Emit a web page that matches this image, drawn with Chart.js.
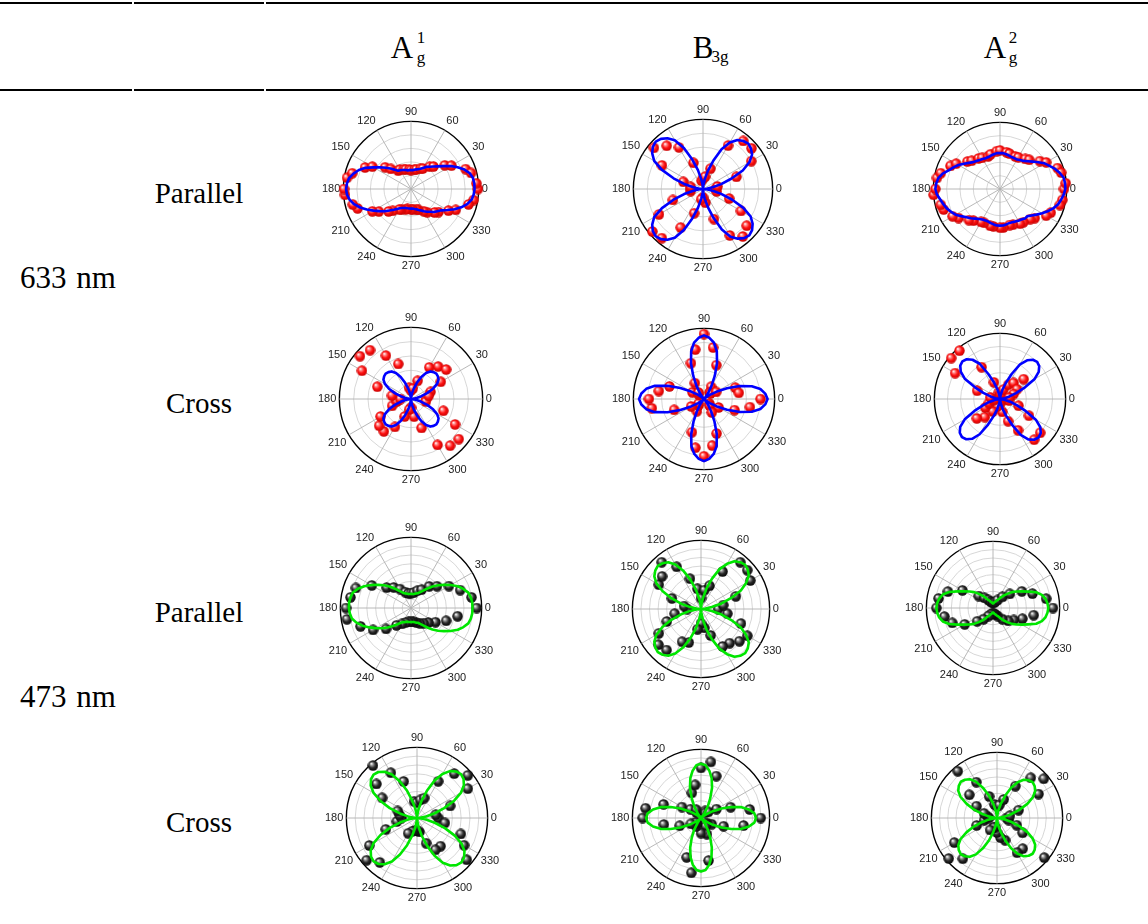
<!DOCTYPE html>
<html><head><meta charset="utf-8">
<script src="https://cdn.jsdelivr.net/npm/chart.js@4.4.1/dist/chart.umd.min.js"></script>
<style>
html,body{margin:0;padding:0;background:#fff;}
body{width:1148px;height:924px;position:relative;overflow:hidden;font-family:"Liberation Serif","Times New Roman",serif;color:#000;}
.rule{position:absolute;height:2px;background:#000;}
.c{position:absolute;transform:translate(-50%,-50%);line-height:1;white-space:nowrap;}
.big{font-size:29px;}
.nm{font-size:31px;word-spacing:2px;}
.hd{font-size:31px;}
.sm{font-size:17px;}
.pc{position:absolute;}
</style></head><body>

<div class="rule" style="left:0;top:2px;width:132px"></div>
<div class="rule" style="left:134px;top:2px;width:130px"></div>
<div class="rule" style="left:266px;top:2px;width:882px"></div>
<div class="rule" style="left:0;top:89px;width:132px"></div>
<div class="rule" style="left:134px;top:89px;width:130px"></div>
<div class="rule" style="left:266px;top:89px;width:882px"></div>

<div class="c hd" style="left:402px;top:47px">A</div>
<div class="c sm" style="left:421px;top:37px">1</div>
<div class="c sm" style="left:421px;top:57px">g</div>
<div class="c hd" style="left:703px;top:47px">B</div>
<div class="c sm" style="left:720px;top:56px">3g</div>
<div class="c hd" style="left:995px;top:47px">A</div>
<div class="c sm" style="left:1013px;top:37px">2</div>
<div class="c sm" style="left:1013px;top:57px">g</div>

<div class="c big" style="left:199px;top:193px">Parallel</div>
<div class="c big" style="left:199px;top:403px">Cross</div>
<div class="c big" style="left:199px;top:612px">Parallel</div>
<div class="c big" style="left:199px;top:822px">Cross</div>
<div class="c nm" style="left:68px;top:277px">633 nm</div>
<div class="c nm" style="left:68px;top:696px">473 nm</div>

<div id="plots"></div>

<script>
// polar angle of every sample (degrees, counter-clockwise from 0 at right)
const thetaDeg = [0,5,10,15,20,25,30,35,40,45,50,55,60,65,70,75,80,85,90,95,100,105,110,115,120,125,130,135,140,145,150,155,160,165,170,175,180,185,190,195,200,205,210,215,220,225,230,235,240,245,250,255,260,265,270,275,280,285,290,295,300,305,310,315,320,325,330,335,340,345,350,355];
const angleTicks = [0,30,60,90,120,150,180,210,240,270,300,330];

// ---- fitted curves (5 deg steps, 0..355) and measured points (5 or 10 deg steps) ----
// 633 nm, Parallel
const fit_633_par_A1g = [94,94,93,90,84,76,68,59,52,47,43,40,36,33,31,30,29,28, 28, 28,28,29,30,31,32,33,37,43,49,56,64,74,82,88,93,95, 96, 95,92,87,80,72,64,57,51,45,40,36,33,31,30,29,29,29, 29, 29,30,31,33,35,38,41,44,48,51,55,62,71,79,86,91,93];
const pts_633_par_A1g = [99,97,null,92,86,null,69,61,null,47,43,null,35,33,null,30,29,null,28,29,null,30,31,null,33,33,null,42,50,null,66,75,null,90,96,null,99,98,null,89,84,null,66,58,null,47,42,null,35,33,null,31,30,null,30,30,null,31,33,null,38,42,null,49,53,null,64,73,null,88,94,null];
const fit_633_par_B3g = [0,5,14,27,43,63,77,86,90,92,90,86,77,63,43,27,14,5, 0,5,14,28,45,65,81,89,94,96,94,89,81,65,45,28,14,5, 0,5,14,28,45,65,81,89,94,96,94,89,81,65,45,28,14,5, 0,5,14,27,44,64,79,87,92,94,92,87,79,64,44,27,14,5];
const pts_633_par_B3g = [18,21,51,80,91,90,72,31,18,15,12,40,69,81,92,68,30,18,18,18,46,73,95,92,64,37,15,12,20,46,77,89,82,63,40,20];
const fit_633_par_A2g = [98,98,97,93,88,82,77,70,64,59,55,53,51,51,51,52,53,54, 54, 54,53,52,51,51,52,53,55,57,61,66,72,77,82,89,94,96, 97, 95,91,88,85,81,77,71,66,62,58,55,53,52,52,53,54,55, 55, 55,54,53,53,54,55,56,58,58,62,67,73,79,85,90,93,96];
const pts_633_par_A2g = [96,99,null,95,92,null,80,73,null,62,59,null,55,54,null,55,56,null,58,57,null,54,52,null,54,56,null,60,64,null,76,82,null,92,96,null,97,100,null,92,90,null,82,76,null,66,62,null,57,56,null,57,57,null,58,58,null,56,57,null,60,61,null,64,68,null,80,84,null,93,95,null];
// 633 nm, Cross
const fit_633_cr_A1g = [0,3,8,15,24,34,42,47,49,50,49,47,42,34,24,15,8,3, 0,3,8,15,24,34,42,47,49,50,49,47,42,34,24,15,8,3, 0,3,8,15,24,34,42,47,49,50,49,47,42,34,24,15,8,3, 0,3,8,15,24,34,42,47,49,50,49,47,42,34,24,15,8,3];
const pts_633_cr_A1g = [21,25,29,48,64,59,51,27,15,12,16,52,70,89,93,79,50,27,15,20,28,49,58,59,45,26,15,12,25,43,74,85,87,71,48,21];
const fit_633_cr_B3g = [90,87,81,70,54,36,21,10,3,0,3,10,21,36,54,70,81,87, 90,87,81,70,54,36,21,10,3,0,3,10,21,37,55,72,83,89, 92,89,83,72,55,37,21,10,3,0,3,10,20,35,53,69,79,85, 88,85,79,69,53,35,20,10,3,0,3,10,21,36,54,70,81,87];
const pts_633_cr_B3g = [80,50,47,20,12,12,20,51,74,92,71,54,26,12,10,19,52,65,78,75,45,21,10,12,20,50,70,81,67,52,22,12,10,24,46,66];
const fit_633_cr_A2g = [0,2,7,15,26,42,61,72,78,80,78,72,61,42,26,15,7,2, 0,2,7,15,27,42,62,73,79,81,79,73,62,42,27,15,7,2, 0,2,7,16,27,43,62,74,80,82,80,74,62,43,27,16,7,2, 0,2,7,16,27,43,63,75,81,83,81,75,63,43,27,16,7,2];
const pts_633_cr_A2g = [10,14,22,30,47,32,25,15,8,6,10,27,56,96,97,79,37,15,8,10,18,26,46,36,22,12,8,7,20,36,55,81,80,51,30,14];
// 473 nm, Parallel
const fit_473_par_A1g = [87,87,86,84,79,73,65,57,50,43,36,30,26,23,22,21,20,20, 20, 20,20,21,22,23,26,30,36,43,50,57,65,73,80,85,87,88, 88, 87,85,80,73,65,57,50,43,36,30,26,23,22,21,20,20,20, 20, 20,20,21,22,23,26,30,36,43,50,57,65,73,79,84,86,87];
const pts_473_par_A1g = [93,87,74,62,48,40,30,26,22,21,21,24,31,38,45,64,83,87,92,92,76,62,46,32,26,22,20,19,20,22,25,28,32,40,53,67];
const fit_473_par_B3g = [0,5,16,31,47,64,76,85,89,91,89,85,76,64,47,31,16,5, 0,5,16,30,46,62,75,83,87,89,87,83,75,62,46,30,16,5, 0,5,16,30,46,62,75,83,87,89,87,83,75,62,46,30,16,5, 0,5,16,31,47,64,76,85,89,91,89,85,76,64,47,31,16,5];
const pts_473_par_B3g = [25,33,54,83,88,89,63,36,28,16,30,47,71,89,74,71,45,25,20,39,53,71,81,78,55,52,30,21,28,41,63,65,73,78,62,39];
const fit_473_par_A2g = [83,82,80,76,69,58,50,43,37,30,24,18,14,12,10,9,8,7, 7, 7,8,9,10,12,14,18,24,30,37,43,50,59,70,78,82,84, 85, 84,82,78,70,59,50,43,37,30,24,18,14,12,10,9,8,7, 7, 7,8,9,10,12,14,18,24,30,37,43,50,58,69,76,80,82];
const pts_473_par_A2g = [90,81,63,50,33,22,14,10,8,8,9,10,14,20,28,53,72,83,85,74,65,49,31,22,14,10,9,8,9,10,14,22,30,36,47,62];
// 473 nm, Cross
const fit_473_cr_A1g = [0,4,13,26,41,58,72,81,86,88,86,81,72,58,41,26,13,4, 0,4,13,25,41,57,71,80,85,87,85,80,71,57,41,25,13,4, 0,4,13,25,41,57,71,80,85,87,85,80,71,57,41,25,13,4, 0,4,13,26,42,59,73,82,87,89,87,82,73,59,42,26,13,4];
const pts_473_cr_A1g = [30,27,50,83,94,82,60,30,26,22,24,55,74,97,75,57,29,25,22,29,47,78,93,82,25,20,18,18,20,38,52,52,92,77,66,40];
const fit_473_cr_B3g = [80,78,71,61,47,33,20,10,3,0,3,9,20,32,47,60,70,77, 79,77,70,60,47,32,20,9,3,0,3,10,20,33,47,61,71,78, 80,78,71,61,47,33,20,10,3,0,3,9,20,32,46,59,69,76, 78,76,69,59,46,32,20,9,3,0,3,10,20,33,47,61,71,78];
const pts_473_cr_B3g = [87,72,46,26,14,10,12,65,83,73,49,39,14,10,20,32,58,82,85,55,33,17,10,10,14,61,81,22,63,25,14,10,12,18,35,63];
const fit_473_cr_A2g = [0,4,12,22,36,51,63,71,75,77,75,71,63,51,36,22,12,4, 0,4,12,23,37,51,64,72,76,78,76,72,64,51,37,23,12,4, 0,4,12,23,37,51,64,72,76,78,76,72,64,51,37,23,12,4, 0,4,12,22,36,51,63,71,75,77,75,71,63,51,36,22,12,4];
const pts_473_cr_A2g = [15,20,35,73,93,80,56,30,20,18,21,35,63,93,55,36,21,15,12,20,33,75,96,81,21,15,14,22,30,36,61,61,94,45,32,18];

// ---- layout of the 12 panels (centre x, centre y, radius in px) ----
const panels = [
  {fit: fit_633_par_A1g, pts: pts_633_par_A1g, cx: 412, cy: 189, R: 68, laser: 633, step: 20},
  {fit: fit_633_par_B3g, pts: pts_633_par_B3g, cx: 704, cy: 189, R: 70, laser: 633, step: 20},
  {fit: fit_633_par_A2g, pts: pts_633_par_A2g, cx: 1001, cy: 189, R: 67, laser: 633, step: 20},
  {fit: fit_633_cr_A1g, pts: pts_633_cr_A1g, cx: 412, cy: 399, R: 72, laser: 633, step: 20},
  {fit: fit_633_cr_B3g, pts: pts_633_cr_B3g, cx: 705, cy: 399, R: 71, laser: 633, step: 20},
  {fit: fit_633_cr_A2g, pts: pts_633_cr_A2g, cx: 1001, cy: 399, R: 66, laser: 633, step: 20},
  {fit: fit_473_par_A1g, pts: pts_473_par_A1g, cx: 412, cy: 608, R: 71, laser: 473, step: 12.5},
  {fit: fit_473_par_B3g, pts: pts_473_par_B3g, cx: 702, cy: 609, R: 69, laser: 473, step: 12.5},
  {fit: fit_473_par_A2g, pts: pts_473_par_A2g, cx: 994, cy: 608, R: 67, laser: 473, step: 12.5},
  {fit: fit_473_cr_A1g, pts: pts_473_cr_A1g, cx: 418, cy: 818, R: 71, laser: 473, step: 12.5},
  {fit: fit_473_cr_B3g, pts: pts_473_cr_B3g, cx: 702, cy: 818, R: 69, laser: 473, step: 12.5},
  {fit: fit_473_cr_A2g, pts: pts_473_cr_A2g, cx: 998, cy: 818, R: 66, laser: 473, step: 12.5}
];

panels.forEach((p, i) => {
  if (p.fit.length !== 72 || (p.pts.length !== 36 && p.pts.length !== 72)) console.error('bad length in panel ' + i, p.fit.length, p.pts.length);
});

// sphere sprites for the measured points
function sphere(dark) {
  const c = document.createElement('canvas');
  c.width = 11; c.height = 11;
  const g = c.getContext('2d');
  const grad = g.createRadialGradient(3.8, 3.6, 0.3, 5.5, 5.5, 5.6);
  if (dark) {
    grad.addColorStop(0, '#ffffff'); grad.addColorStop(0.22, '#9a9a9a');
    grad.addColorStop(0.55, '#2a2a2a'); grad.addColorStop(1, '#000000');
  } else {
    grad.addColorStop(0, '#ffffff'); grad.addColorStop(0.2, '#ff9090');
    grad.addColorStop(0.55, '#ff1010'); grad.addColorStop(1, '#c00000');
  }
  g.fillStyle = grad;
  g.beginPath(); g.arc(5.5, 5.5, 5.2, 0, Math.PI * 2); g.fill();
  return c;
}
const redBall = sphere(false);
const blackBall = sphere(true);

// Chart.js radar goes clockwise from its start angle; reorder so angles run counter-clockwise from the right
const order = thetaDeg.map((_, i) => (thetaDeg.length - i) % thetaDeg.length);
const radarLabels = order.map(k => thetaDeg[k]);
function reorder(arr) { return order.map(k => arr[k]); }
function spread(pts) {
  if (pts.length === thetaDeg.length) return pts.slice();
  const out = []; pts.forEach(v => { out.push(v); out.push(null); }); return out;
}

const host = document.getElementById('plots');
panels.forEach((p, i) => {
  const W = 2 * p.R + 42, H = 2 * p.R + 42;
  const d = document.createElement('div');
  d.className = 'pc';
  d.style.left = (p.cx - W / 2 - 6) + 'px';
  d.style.top = (p.cy - H / 2) + 'px';
  const cv = document.createElement('canvas');
  cv.width = W; cv.height = H;
  cv.style.width = W + 'px'; cv.style.height = H + 'px';
  d.appendChild(cv); host.appendChild(d);
  const lineColor = p.laser === 633 ? '#0000ff' : '#00e600';
  new Chart(cv, {
    type: 'radar',
    data: {
      labels: radarLabels,
      datasets: [
        {data: reorder(p.fit), borderColor: lineColor, borderWidth: 2.6, pointRadius: 0, pointHoverRadius: 0,
         fill: false, tension: 0, backgroundColor: 'rgba(0,0,0,0)', borderJoinStyle: 'round'},
        {data: reorder(spread(p.pts)), showLine: false, pointStyle: p.laser === 633 ? redBall : blackBall,
         pointRadius: 5, pointHoverRadius: 5, borderWidth: 0, borderColor: 'rgba(0,0,0,0)', backgroundColor: 'rgba(0,0,0,0)'}
      ]
    },
    options: {
      responsive: false, animation: false, events: [],
      devicePixelRatio: 1,
      plugins: {legend: {display: false}, tooltip: {enabled: false}},
      scales: {
        r: {
          min: 0, max: 100, startAngle: 90,
          ticks: {display: false, stepSize: p.step},
          grid: {circular: true,
                 color: c => (c.tick && c.tick.value === 100) ? '#000000' : '#d2d2d2',
                 lineWidth: c => (c.tick && c.tick.value === 100) ? 1.4 : 0.9},
          angleLines: {color: c => (c.index % 6 === 0) ? '#b0b0b0' : 'rgba(0,0,0,0)', lineWidth: 0.9},
          pointLabels: {font: {family: 'Liberation Sans', size: 11}, color: '#222', padding: 3,
                        callback: v => angleTicks.includes(v) ? String(v) : ''}
        }
      }
    }
  });
});
</script>
</body></html>
